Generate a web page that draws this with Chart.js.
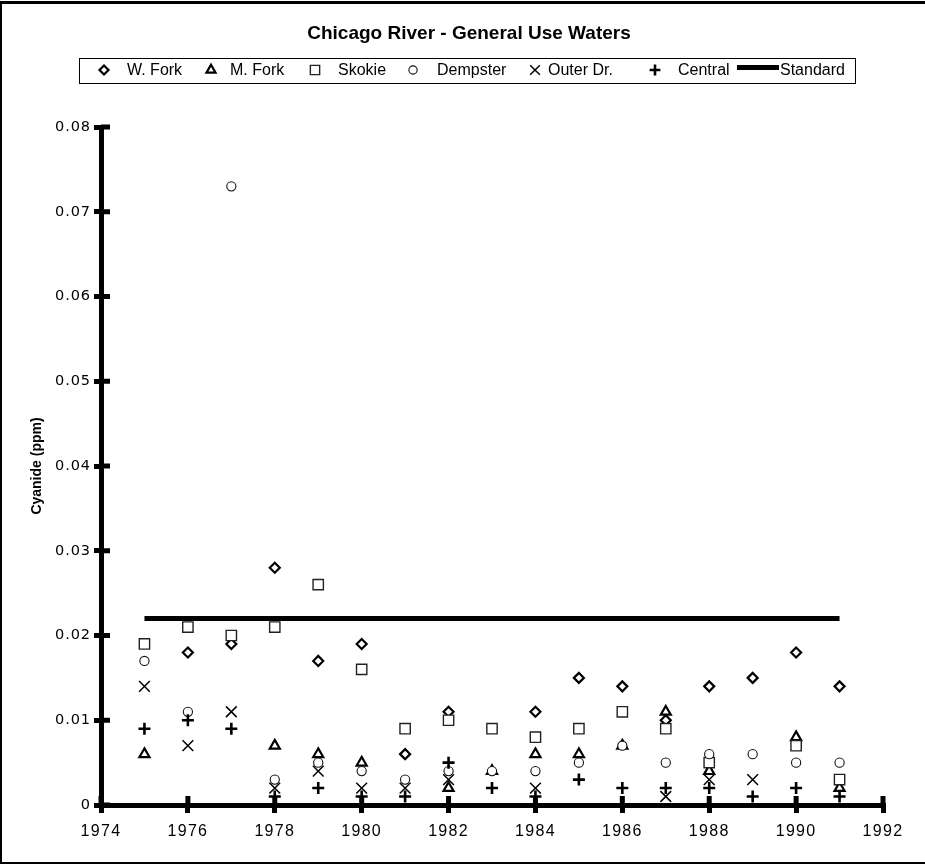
<!DOCTYPE html>
<html>
<head>
<meta charset="utf-8">
<title>Chicago River - General Use Waters</title>
<script src="https://cdn.jsdelivr.net/npm/chart.js@4.4.1/dist/chart.umd.min.js"></script>
<style>
  html, body { margin: 0; padding: 0; background: #fff; }
  #wrap { position: relative; width: 925px; height: 865px; }
</style>
</head>
<body>
<div id="wrap"><canvas id="cyanide-chart" width="925" height="865"></canvas></div>
<script>
// Cyanide (ppm) per monitoring station, yearly values; null = no sample plotted
const years = [1975, 1976, 1977, 1978, 1979, 1980, 1981, 1982, 1983, 1984, 1985, 1986, 1987, 1988, 1989, 1990, 1991];
const wFork    = [null, 0.018, 0.019, 0.028, 0.017, 0.019, 0.006, 0.011, null, 0.011, 0.015, 0.014, 0.010, 0.014, 0.015, 0.018, 0.014];
const mFork    = [0.006, null, null, 0.007, 0.006, 0.005, null, 0.002, 0.004, 0.006, 0.006, 0.007, 0.011, 0.004, null, 0.008, 0.002];
const skokie   = [0.019, 0.021, 0.020, 0.021, 0.026, 0.016, 0.009, 0.010, 0.009, 0.008, 0.009, 0.011, 0.009, 0.005, null, 0.007, 0.003];
const dempster = [0.017, 0.011, 0.073, 0.003, 0.005, 0.004, 0.003, 0.004, 0.004, 0.004, 0.005, 0.007, 0.005, 0.006, 0.006, 0.005, 0.005];
const outerDr  = [0.014, 0.007, 0.011, 0.002, 0.004, 0.002, 0.002, 0.003, null, 0.002, null, null, 0.001, 0.003, 0.003, null, null];
const central  = [0.009, 0.010, 0.009, 0.001, 0.002, 0.001, 0.001, 0.005, 0.002, 0.001, 0.003, 0.002, 0.002, 0.002, 0.001, 0.002, 0.001];

// general use water quality standard
const standardYears = [1975, 1991];
const standardValues = [0.022, 0.022];

const xTickLabels = ['1974', '1976', '1978', '1980', '1982', '1984', '1986', '1988', '1990', '1992'];
const yTickLabels = ['0', '0.01', '0.02', '0.03', '0.04', '0.05', '0.06', '0.07', '0.08'];

const FONT = '"Liberation Sans", Arial, Helvetica, sans-serif';
const WIDE_FONT = '"DejaVu Sans", Verdana, sans-serif';
const labelSpacing = { x: '1.3px', y: '0.9px' };

// linear scale whose tick labels get a bit of letter spacing
class SpacedLinearScale extends Chart.LinearScale {
  drawLabels(chartArea) {
    const ctx = this.ctx;
    ctx.save();
    ctx.letterSpacing = labelSpacing[this.id] || '0px';
    super.drawLabels(chartArea);
    ctx.restore();
  }
}
SpacedLinearScale.id = 'spacedLinear';
SpacedLinearScale.defaults = Chart.LinearScale.defaults;
Chart.register(SpacedLinearScale);

function toPoints(xs, values) {
  return xs.map((x, i) => ({ x, y: values[i] })).filter((p) => p.y !== null);
}

// marker look per station, in legend order
const stations = [
  { label: 'W. Fork',   values: wFork,    pointStyle: 'rectRot',  radius: 5,   borderWidth: 2.2, color: '#000' },
  { label: 'M. Fork',   values: mFork,    pointStyle: 'triangle', radius: 5.8, borderWidth: 2.2, color: '#000' },
  { label: 'Skokie',    values: skokie,   pointStyle: 'rect',     radius: 7.3, borderWidth: 1.4, color: '#222' },
  { label: 'Dempster',  values: dempster, pointStyle: 'circle',   radius: 4.6, borderWidth: 1.1, color: '#111' },
  { label: 'Outer Dr.', values: outerDr,  pointStyle: 'crossRot', radius: 7.6, borderWidth: 1.5, color: '#000' },
  { label: 'Central',   values: central,  pointStyle: 'cross',    radius: 6,   borderWidth: 2.6, color: '#000' }
];

const datasets = stations.map((s, i) => ({
  label: s.label,
  data: toPoints(years, s.values),
  pointStyle: s.pointStyle,
  pointRadius: s.radius,
  pointBorderWidth: s.borderWidth,
  pointBorderColor: s.color,
  pointBackgroundColor: '#fff',
  showLine: false,
  // later stations sit on top of earlier ones
  order: stations.length + 1 - i
}));

datasets.push({
  type: 'line',
  label: 'Standard',
  data: toPoints(standardYears, standardValues),
  borderColor: '#000',
  borderWidth: 5,
  borderCapStyle: 'butt',
  pointRadius: 0,
  order: stations.length + 2
});

// ticks cross the axis lines, so add the inner half of each tick
const innerTicks = {
  id: 'innerTicks',
  beforeDatasetsDraw(chart) {
    const { ctx, chartArea, scales } = chart;
    ctx.save();
    ctx.strokeStyle = '#000';
    ctx.lineWidth = 5;
    ctx.beginPath();
    scales.x.ticks.forEach((t) => {
      const px = scales.x.getPixelForValue(t.value);
      ctx.moveTo(px, chartArea.bottom);
      ctx.lineTo(px, chartArea.bottom - 9);
    });
    scales.y.ticks.forEach((t) => {
      const py = scales.y.getPixelForValue(t.value);
      ctx.moveTo(chartArea.left, py);
      ctx.lineTo(chartArea.left + 9, py);
    });
    ctx.stroke();
    ctx.restore();
  }
};

// frame, title, boxed legend and y axis title
const decorations = {
  id: 'decorations',
  afterDraw(chart) {
    const ctx = chart.ctx;
    const area = chart.chartArea;
    ctx.save();
    ctx.letterSpacing = '0px';

    ctx.strokeStyle = '#000';
    ctx.lineWidth = 2;
    ctx.beginPath();
    ctx.moveTo(1, 863);
    ctx.lineTo(1, 2);
    ctx.stroke();
    ctx.lineWidth = 3;
    ctx.beginPath();
    ctx.moveTo(0, 2.5);
    ctx.lineTo(925, 2.5);
    ctx.stroke();
    ctx.lineWidth = 2;
    ctx.beginPath();
    ctx.moveTo(0, 863);
    ctx.lineTo(925, 863);
    ctx.stroke();

    ctx.fillStyle = '#000';
    ctx.textAlign = 'center';
    ctx.textBaseline = 'middle';
    ctx.font = 'bold 19px ' + FONT;
    ctx.fillText('Chicago River - General Use Waters', 469, 34);

    // legend box
    ctx.lineWidth = 1;
    ctx.strokeRect(79.5, 58.5, 776, 25);
    const markerX = [104, 211, 315, 413, 535, 655];
    const textX = [127, 230, 338, 437, 548, 678];
    ctx.font = '16px ' + FONT;
    ctx.textAlign = 'left';
    stations.forEach((s, i) => {
      ctx.strokeStyle = s.color;
      ctx.fillStyle = '#fff';
      ctx.lineWidth = s.borderWidth;
      Chart.helpers.drawPoint(ctx, {
        pointStyle: s.pointStyle,
        radius: s.radius * 0.9,
        borderWidth: s.borderWidth,
        rotation: 0
      }, markerX[i], 70);
      ctx.fillStyle = '#000';
      ctx.fillText(s.label, textX[i], 71);
    });
    ctx.strokeStyle = '#000';
    ctx.lineWidth = 5;
    ctx.beginPath();
    ctx.moveTo(737, 67.5);
    ctx.lineTo(779, 67.5);
    ctx.stroke();
    ctx.fillText('Standard', 780, 71);

    ctx.translate(37, (area.top + area.bottom) / 2);
    ctx.rotate(-Math.PI / 2);
    ctx.textAlign = 'center';
    ctx.font = 'bold 14px ' + FONT;
    ctx.fillText('Cyanide (ppm)', 0, 0);
    ctx.restore();
  }
};

new Chart(document.getElementById('cyanide-chart'), {
  type: 'scatter',
  data: { datasets },
  options: {
    responsive: false,
    animation: false,
    devicePixelRatio: 1,
    layout: { padding: { left: 0, right: 42, top: 127, bottom: 0 } },
    plugins: {
      legend: { display: false },
      title: { display: false },
      tooltip: { enabled: false }
    },
    scales: {
      x: {
        type: 'spacedLinear',
        position: 'bottom',
        min: 1974,
        max: 1992,
        afterFit: (scale) => { scale.height = 60; },
        border: { display: true, color: '#000', width: 5 },
        grid: { drawOnChartArea: false, drawTicks: true, tickLength: 8, lineWidth: 5, color: '#000' },
        ticks: {
          stepSize: 2,
          autoSkip: false,
          maxRotation: 0,
          padding: 9,
          color: '#000',
          font: { family: FONT, size: 16 },
          callback: (value, index) => xTickLabels[index]
        }
      },
      y: {
        type: 'spacedLinear',
        position: 'left',
        min: 0,
        max: 0.08,
        afterFit: (scale) => { scale.width = 101; },
        border: { display: true, color: '#000', width: 5 },
        grid: { drawOnChartArea: false, drawTicks: true, tickLength: 7, lineWidth: 5, color: '#000' },
        ticks: {
          stepSize: 0.01,
          autoSkip: false,
          padding: 3,
          color: '#000',
          font: { family: WIDE_FONT, size: 14.5 },
          callback: (value) => yTickLabels[Math.round(value * 100)]
        }
      }
    }
  },
  plugins: [innerTicks, decorations]
});
</script>
</body>
</html>
